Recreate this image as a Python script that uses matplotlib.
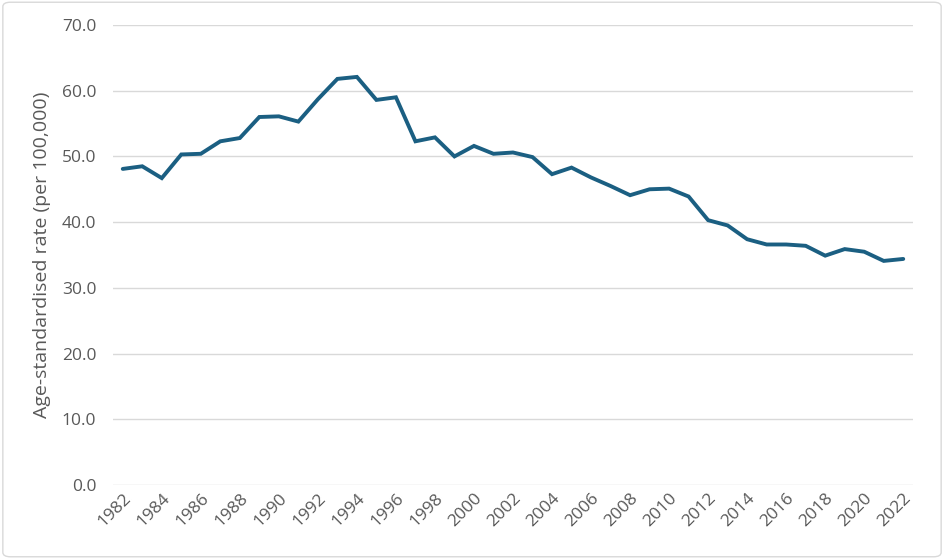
import matplotlib
matplotlib.use("Agg")
import matplotlib.pyplot as plt
from matplotlib.patches import FancyBboxPatch

years = list(range(1982, 2023))
rates = [48.1, 48.5, 46.7, 50.3, 50.4, 52.3, 52.8, 56.0, 56.1, 55.3,
         58.7, 61.8, 62.1, 58.6, 59.0, 52.3, 52.9, 50.0, 51.6, 50.4,
         50.6, 49.9, 47.3, 48.3, 46.8, 45.5, 44.1, 45.0, 45.1, 43.9,
         40.3, 39.5, 37.4, 36.6, 36.6, 36.4, 34.9, 35.9, 35.5, 34.1, 34.4]
tick_years = years[::2]
y_ticks = [0, 10, 20, 30, 40, 50, 60, 70]
ylabel = "Age-standardised rate (per 100,000)"

plt.rcParams['font.family'] = ['Open Sans', 'DejaVu Sans']

fig = plt.figure(figsize=(9.44, 5.59), dpi=100)
ax = fig.add_axes([113/944, 74/559, 800/944, 460/559])

x = list(range(len(years)))
ax.plot(x, rates, color='#1b5f82', linewidth=2.8, solid_joinstyle='miter', solid_capstyle='round')

ax.set_xlim(-0.5, len(years) - 0.5)
ax.set_ylim(0, 70)
ax.set_yticks(y_ticks)
ax.set_yticklabels([f"{v:.1f}" for v in y_ticks])
ax.set_xticks([years.index(t) for t in tick_years])
ax.set_xticklabels([str(t) for t in tick_years], rotation=45, ha='right',
                   rotation_mode='anchor')
ax.grid(axis='y', color='#d9d9d9', linewidth=1.0)
ax.set_axisbelow(True)
for s in ax.spines.values():
    s.set_visible(False)
ax.tick_params(axis='both', length=0, labelsize=12.5, colors='#595959')
ax.tick_params(axis='y', pad=12)
ax.tick_params(axis='x', pad=4)
ax.set_ylabel(ylabel, fontsize=14, color='#595959', labelpad=8)

border = FancyBboxPatch((0.003, 0.004), 0.994, 0.992, boxstyle="round,pad=0,rounding_size=0.008",
                        transform=fig.transFigure, facecolor='none', edgecolor='#d9d9d9', linewidth=1.0)
fig.patches.append(border)

fig.savefig("out.png", dpi=100)
